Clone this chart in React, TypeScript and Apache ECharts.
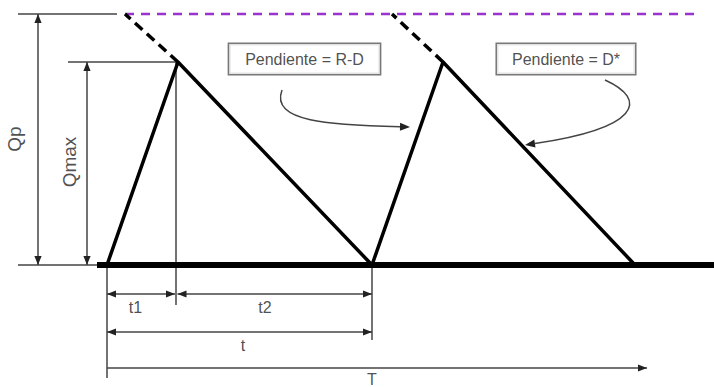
import React, { useEffect, useRef } from "react";
import * as echarts from "echarts";

// Axis frame (units: time along x, stock level along y)
const X_MIN = -107;
const X_MAX = 607;
const Y_MIN = -122;
const Y_MAX = 265;

const QP = 251;
const QMAX = 203;

// Sawtooth inventory profile
const RAMP_X = [0, 71, 265, 336, 528];
const RAMP_Y = [0, QMAX, 0, QMAX, 0];

// Dashed extensions of the falling slope up to Qp
const DASH_EXT = [
  [[71, QMAX], [18, QP]],
  [[336, QMAX], [285, QP]],
];

// Purple Qp line
const QP_LINE = [[18, QP], [593, QP]];

// Ground
const GROUND_THICK = [[-10, 0], [607, 0]];
const GROUND_THIN = [[-89, 0], [-10, 0]];

// Thin reference lines
const REF_LINES = [
  [[-89, QP], [10, QP]],
  [[-39, QMAX], [71, QMAX]],
  [[69, QMAX], [69, -40]],
  [[265, 0], [265, -75]],
  [[0, 0], [0, -113]],
];

// Dimension arrows: [start, end, arrowAtStart]
const DIM_ARROWS: [number[], number[], boolean][] = [
  [[-69, 0], [-69, QP], true],
  [[-20, 0], [-20, QMAX], true],
  [[0, -29], [68, -29], true],
  [[70.5, -29], [265, -29], true],
  [[0, -67], [265, -67], true],
  [[0, -103], [540, -103], false],
];

// Labels
const DIM_LABELS = [
  { name: "t1", value: [28.5, -42.5] },
  { name: "t2", value: [158, -42] },
  { name: "t", value: [136, -80] },
  { name: "T", value: [265, -114] },
];
const AXIS_LABELS = [
  { name: "Qp", value: [-92.5, 126] },
  { name: "Qmax", value: [-38, 103] },
];
const BOX_LABELS = [
  { name: "Pendiente = R-D", value: [197.5, 206], pad: 16 },
  { name: "Pendiente = D*", value: [459, 206], pad: 15 },
];

// Curved callout arrows (cubic bezier: start, cp1, cp2, end)
const CURVES = [
  [[175, 175], [163, 143], [223, 140], [303, 138]],
  [[498, 185], [542, 165], [532, 137], [418, 120]],
];

const FONT = "'Liberation Sans', Arial, sans-serif";
const THIN = "#444";
const TEXT = "#222";

function arrowHead(tip: number[], from: number[], L = 9, W = 3.6) {
  const ang = Math.atan2(tip[1] - from[1], tip[0] - from[0]);
  const bx = tip[0] - L * Math.cos(ang);
  const by = tip[1] - L * Math.sin(ang);
  const nx = -Math.sin(ang) * W;
  const ny = Math.cos(ang) * W;
  return {
    base: [bx, by],
    el: {
      type: "polygon",
      shape: { points: [tip, [bx + nx, by + ny], [bx - nx, by - ny]] },
      style: { fill: "#222" },
    },
  };
}

export default function App() {
  const ref = useRef<HTMLDivElement>(null);

  useEffect(() => {
    if (!ref.current) return;
    const chart = echarts.init(ref.current, undefined, { renderer: "svg" });

    const lineSeries = (data: number[][], color: string, width: number, type: any = "solid", z = 2) => ({
      type: "line",
      data,
      symbol: "none",
      silent: true,
      z,
      lineStyle: { color, width, type, cap: "butt" },
    });

    const series: any[] = [];

    series.push(lineSeries(GROUND_THIN, THIN, 1.5));
    REF_LINES.forEach((l) => series.push(lineSeries(l, THIN, 1.5)));
    series.push(lineSeries(QP_LINE, "#9933cc", 2.5, [9, 7]));
    DASH_EXT.forEach((l) => series.push(lineSeries(l, "#000", 3.5, [10, 6], 3)));
    series.push(lineSeries(RAMP_X.map((x, i) => [x, RAMP_Y[i]]), "#000", 3.5, "solid", 4));
    series.push(lineSeries(GROUND_THICK, "#000", 6, "solid", 5));

    series.push({
      type: "custom",
      silent: true,
      z: 3,
      data: DIM_ARROWS.map((a) => a[1]),
      renderItem: (params: any, api: any) => {
        const a = DIM_ARROWS[params.dataIndex];
        const s = api.coord(a[0]);
        const e = api.coord(a[1]);
        const children: any[] = [
          {
            type: "line",
            shape: { x1: s[0], y1: s[1], x2: e[0], y2: e[1] },
            style: { stroke: THIN, lineWidth: 1.5 },
          },
        ];
        children.push(arrowHead(e, s).el);
        if (a[2]) children.push(arrowHead(s, e).el);
        return { type: "group", children };
      },
    });

    series.push({
      type: "custom",
      silent: true,
      z: 3,
      data: CURVES.map((c) => c[3]),
      renderItem: (params: any, api: any) => {
        const c = CURVES[params.dataIndex];
        const p = c.map((pt) => api.coord(pt));
        const head = arrowHead(p[3], p[2], 10, 4);
        return {
          type: "group",
          children: [
            {
              type: "bezierCurve",
              shape: {
                x1: p[0][0], y1: p[0][1],
                cpx1: p[1][0], cpy1: p[1][1],
                cpx2: p[2][0], cpy2: p[2][1],
                x2: head.base[0], y2: head.base[1],
              },
              style: { stroke: THIN, lineWidth: 1.5, fill: null },
            },
            head.el,
          ],
        };
      },
    });

    const baseLabel = {
      show: true,
      position: "inside",
      formatter: "{b}",
      color: TEXT,
      fontFamily: FONT,
      textBorderWidth: 0,
      textBorderColor: "transparent",
      textShadowBlur: 0,
    };

    const textSeries = (data: any[], label: any) => ({
      type: "scatter",
      symbolSize: 0,
      silent: true,
      z: 6,
      itemStyle: { color: TEXT },
      data,
      label: { ...baseLabel, ...label },
    });

    series.push(textSeries(DIM_LABELS, { fontSize: 16 }));
    series.push(textSeries(AXIS_LABELS, { fontSize: 19, rotate: 90 }));
    series.push(
      textSeries(
        BOX_LABELS.map((b) => ({
          name: b.name,
          value: b.value,
          label: { padding: [7, b.pad] },
        })),
        {
          fontSize: 16,
          backgroundColor: "#fff",
          borderColor: "#555",
          borderWidth: 1.5,
          padding: [7, 15],
        }
      )
    );

    chart.setOption({
      animation: false,
      backgroundColor: "#fff",
      grid: { left: 0, right: 0, top: 0, bottom: 0 },
      xAxis: { type: "value", min: X_MIN, max: X_MAX, show: false },
      yAxis: { type: "value", min: Y_MIN, max: Y_MAX, show: false },
      series,
    });

    return () => chart.dispose();
  }, []);

  return (
    <div
      ref={ref}
      style={{ position: "fixed", left: 0, top: 0, width: 714, height: 387, background: "#fff" }}
    />
  );
}
